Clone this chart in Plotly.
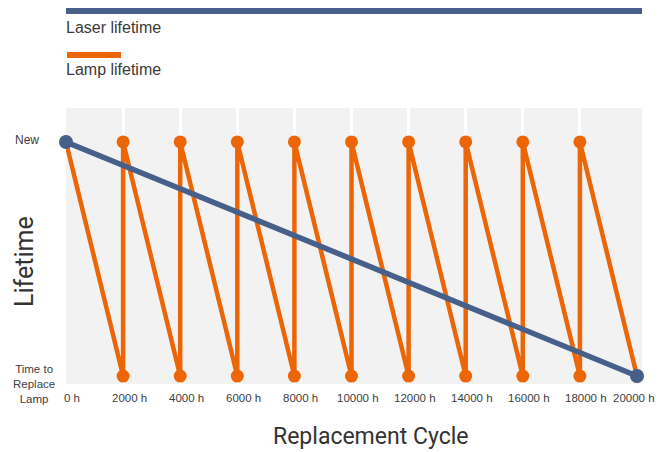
import plotly.graph_objects as go

# Data
tick_vals = [0, 2000, 4000, 6000, 8000, 10000, 12000, 14000, 16000, 18000, 20000]
tick_text = ["0 h", "2000 h", "4000 h", "6000 h", "8000 h", "10000 h", "12000 h",
             "14000 h", "16000 h", "18000 h", "20000 h"]
grid_vals = [2000, 4000, 6000, 8000, 10000, 12000, 14000, 16000, 18000]

laser_x = [0, 20000]
laser_y = [1, 0]

lamp_x = [0, 2000, 2000, 4000, 4000, 6000, 6000, 8000, 8000, 10000, 10000,
          12000, 12000, 14000, 14000, 16000, 16000, 18000, 18000, 20000]
lamp_y = [1, 0, 1, 0, 1, 0, 1, 0, 1, 0, 1, 0, 1, 0, 1, 0, 1, 0, 1, 0]

BLUE = "#46608a"
ORANGE = "#ec6608"
FONT = "Liberation Sans"
TITLE_FONT = "Roboto"

fig = go.Figure()
fig.add_trace(go.Scatter(x=lamp_x, y=lamp_y, mode="lines+markers",
                         line=dict(color=ORANGE, width=4.5),
                         marker=dict(color=ORANGE, size=13),
                         showlegend=False, hoverinfo="skip", cliponaxis=False))
fig.add_trace(go.Scatter(x=laser_x, y=laser_y, mode="lines+markers",
                         line=dict(color=BLUE, width=5.5),
                         marker=dict(color=BLUE, size=14),
                         showlegend=False, hoverinfo="skip", cliponaxis=False))

# the page places the figure 8px from the top-left corner; margins compensate for that
fig.update_layout(
    width=667, height=452,
    margin=dict(l=58, r=33, t=100, b=76),
    paper_bgcolor="white",
    plot_bgcolor="#f2f2f2",
    font=dict(family=FONT, color="#444"),
    xaxis=dict(range=[0, 20175], tickmode="array", tickvals=tick_vals, ticktext=tick_text,
               showticklabels=False,
               showgrid=False, zeroline=False, showline=False, ticks="", automargin=False),
    xaxis2=dict(range=[0, 20175], overlaying="x", matches="x", tickmode="array", tickvals=grid_vals,
                showticklabels=False, showgrid=True, gridcolor="white", gridwidth=3,
                zeroline=False, showline=False, ticks="", automargin=False),
    yaxis=dict(range=[-0.034, 1.145], showticklabels=False, showgrid=False, zeroline=False,
               showline=False, ticks="", automargin=False),
)

# dummy trace to activate xaxis2 gridlines
fig.add_trace(go.Scatter(x=[None], y=[None], xaxis="x2", showlegend=False, hoverinfo="skip"))

# x tick labels (placed per tick so the last one stays inside the window)
for i, (v, t) in enumerate(zip(tick_vals, tick_text)):
    last = i == len(tick_vals) - 1
    fig.add_annotation(text=t, xref="x", yref="paper", x=v, y=-0.049,
                       xanchor="right" if last else "center", yanchor="middle",
                       xshift=20 if last else 6, showarrow=False,
                       font=dict(size=11.5, color="#404040", family=FONT))

# custom legend drawn as shapes + text
fig.add_shape(type="line", xref="paper", yref="paper", x0=0, x1=1, y0=1.3514, y1=1.3514,
              line=dict(color=BLUE, width=6))
fig.add_shape(type="line", xref="paper", yref="paper", x0=0.0017, x1=0.0955, y0=1.192, y1=1.192,
              line=dict(color=ORANGE, width=6))
fig.add_annotation(text="Laser lifetime", xref="paper", yref="paper", x=-0.004, y=1.2917,
                   xanchor="left", yanchor="middle", showarrow=False,
                   font=dict(size=16, color="#3a3a3a", family=FONT))
fig.add_annotation(text="Lamp lifetime", xref="paper", yref="paper", x=-0.004, y=1.1413,
                   xanchor="left", yanchor="middle", showarrow=False,
                   font=dict(size=16, color="#3a3a3a", family=FONT))

# y tick labels
fig.add_annotation(text="New", xref="paper", yref="y", x=-0.0677, y=1.008,
                   xanchor="center", yanchor="middle", showarrow=False,
                   font=dict(size=12, color="#404040", family=FONT))
fig.add_annotation(text="Time to<br>Replace<br>Lamp", xref="paper", yref="y", x=-0.0556, y=-0.034,
                   xanchor="center", yanchor="middle", showarrow=False, align="center",
                   font=dict(size=11.5, color="#404040", family=FONT))

# axis titles
fig.add_annotation(text="Replacement Cycle", xref="paper", yref="paper", x=0.5278, y=-0.192,
                   xanchor="center", yanchor="middle", showarrow=False,
                   font=dict(size=23, color="#333", family=TITLE_FONT))
fig.add_annotation(text="Lifetime", xref="paper", yref="paper", x=-0.0712, y=0.4457,
                   xanchor="center", yanchor="middle", showarrow=False, textangle=-90,
                   font=dict(size=25, color="#333", family=TITLE_FONT))

fig.write_html("out.html")
